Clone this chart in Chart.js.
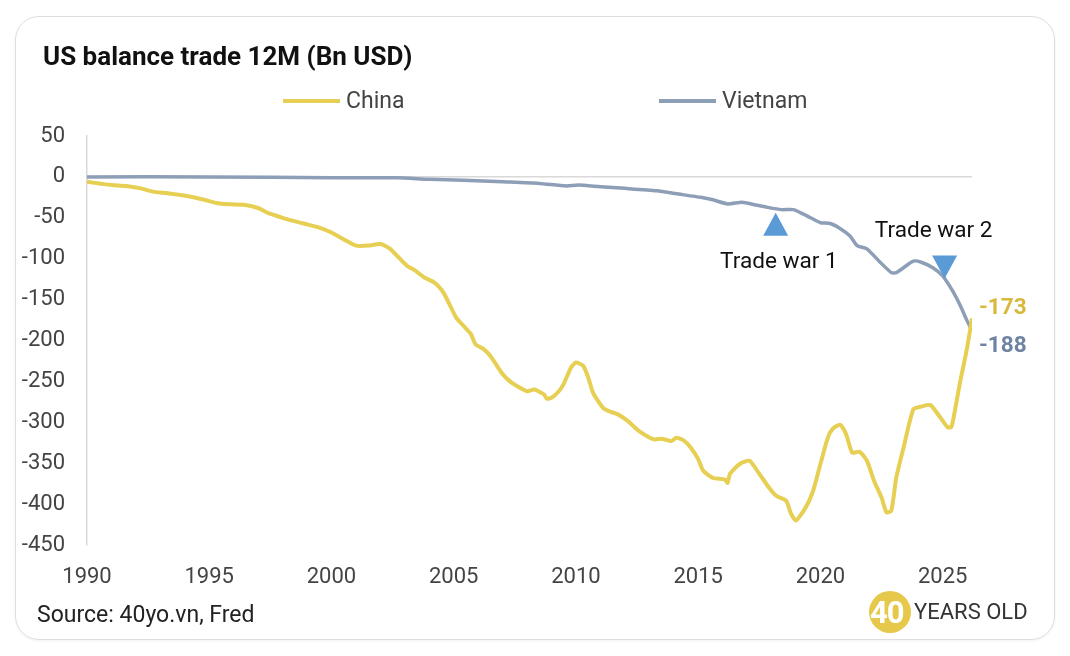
<!DOCTYPE html>
<html lang="en">
<head>
<meta charset="UTF-8">
<title>US balance trade 12M (Bn USD)</title>
<script src="https://cdn.jsdelivr.net/npm/chart.js"></script>
<style>
body{margin:0;background:#fff;font-family:Roboto,Arial,sans-serif;}
.stage{position:relative;width:1070px;height:656px;overflow:hidden;}
.card{position:absolute;left:15px;top:16px;width:1038px;height:622px;
      border:1.5px solid #dedede;border-radius:24px;box-shadow:0 1px 3px rgba(0,0,0,.06);}
canvas{position:absolute;left:0;top:0;}
.title{position:absolute;left:43px;top:41px;font-weight:700;font-size:26px;color:#111;}
.legend{position:absolute;top:87px;font-size:23px;color:#444;display:flex;align-items:center;}
.legend i{display:inline-block;width:57px;height:4px;margin-right:6px;}
.source{position:absolute;left:37px;top:601px;font-size:23px;color:#222;}
.logo{position:absolute;left:869px;top:591px;width:42px;height:42px;border-radius:50%;
      background:#e6c84a;overflow:hidden;}
.logo span{position:absolute;left:1px;top:3px;font-weight:700;font-size:31px;color:#fff;letter-spacing:-1px;}
.logotext{position:absolute;left:914px;top:599px;font-size:22px;color:#333;}
</style>
</head>
<body>
<div class="stage">
  <div class="card"></div>
  <canvas id="tradeChart" width="1070" height="656"></canvas>
  <div class="title">US balance trade 12M (Bn USD)</div>
  <div class="legend" style="left:283px"><i style="background:#e6cf52"></i>China</div>
  <div class="legend" style="left:659px"><i style="background:#8d9eb7"></i>Vietnam</div>
  <div class="source">Source: 40yo.vn, Fred</div>
  <div class="logo"><span>40</span></div>
  <div class="logotext">YEARS OLD</div>
</div>

<script>
/* ---- data (year, Bn USD) ---- */
const chinaYears=[1990.0,1990.5,1991.0,1991.6,1992.2,1992.7,1993.3,1994.2,1994.8,1995.3,1995.6,1996.4,1997.0,1997.4,1998.0,1998.6,1999.0,1999.5,2000.0,2000.6,
  2001.0,2001.5,2002.0,2002.4,2002.7,2003.1,2003.4,2003.8,2004.2,2004.5,2004.7,2005.1,2005.4,2005.7,2005.9,2006.2,2006.5,2007.0,2007.3,2007.6,
  2008.0,2008.3,2008.7,2008.8,2009.0,2009.3,2009.5,2009.8,2010.0,2010.3,2010.5,2010.7,2011.1,2011.4,2011.7,2012.1,2012.6,2013.2,2013.5,2013.9,
  2014.1,2014.4,2014.7,2015.0,2015.2,2015.6,2016.1,2016.2,2016.3,2016.7,2017.1,2017.5,2017.9,2018.2,2018.6,2018.8,2019.0,2019.4,2019.7,2020.0,
  2020.3,2020.5,2020.8,2021.0,2021.1,2021.3,2021.6,2021.9,2022.2,2022.5,2022.7,2022.9,2023.1,2023.4,2023.8,2024.1,2024.5,2024.9,2025.2,2025.35,
  2025.45,2025.7,2026.0,2026.2];
const chinaValues=[-6,-8,-10,-11,-14,-18,-20,-24,-28,-32,-33,-34,-38,-44,-50,-55,-58,-62,-68,-78,
  -84,-84,-82,-88,-97,-109,-114,-123,-129,-138,-148,-172,-182,-192,-205,-210,-219,-241,-250,-256,
  -262,-260,-266,-271,-270,-262,-253,-233,-227,-231,-245,-264,-282,-287,-290,-298,-311,-321,-320,-323,
  -319,-322,-331,-345,-359,-368,-370,-374,-363,-351,-347,-363,-380,-390,-396,-412,-420,-404,-384,-351,
  -319,-308,-303,-311,-319,-337,-336,-347,-372,-392,-410,-408,-368,-331,-284,-281,-279,-294,-306,-306,
  -294,-253,-209,-173];

const vietnamYears=[1990.0,1995.0,2000.0,2002.7,2004.0,2005.4,2007.0,2008.5,2009.6,2010.1,2011.0,2012.0,2013.3,2014.2,2015.1,2015.6,2016.2,2016.8,2017.3,2017.8,
  2018.4,2018.9,2019.2,2019.6,2020.0,2020.4,2020.8,2021.2,2021.5,2021.9,2022.4,2022.9,2023.1,2023.4,2023.8,2024.1,2024.6,2025.0,2025.4,2025.7,
  2026.0,2026.2];
const vietnamValues=[0,0,-1,-1,-3,-4,-6,-8,-11,-10,-12,-14,-17,-21,-25,-28,-33,-31,-34,-37,
  -40,-40,-44,-50,-56,-57,-63,-72,-84,-88,-103,-117,-117,-111,-103,-104,-111,-121,-139,-156,
  -176,-188];

/* annotations: triangle markers and their captions */
const warLabels=["Trade war 1","Trade war 2"];
const warYears=[2018.17,2025.08];
const warMarkerValues=[-58,-110];
const warMarkerUp=[true,false];
const warTextYears=[2018.3,2024.63];
const warTextValues=[-105,-66];

const COLORS={china:"#e6cf52",vietnam:"#8d9eb7",chinaLabel:"#d8b93c",vietnamLabel:"#6f84a3",marker:"#5b9bd5"};
const FONT="Roboto, Arial, sans-serif";

const toPoints=(xs,ys)=>xs.map((x,i)=>({x:x,y:ys[i]}));

/* draws the trade-war markers and the end-of-line values */
const notesPlugin={
  id:"notes",
  afterDatasetsDraw(chart){
    const {ctx,scales:{x,y}}=chart;
    ctx.save();
    warYears.forEach((yr,i)=>{
      const cx=x.getPixelForValue(yr), cy=y.getPixelForValue(warMarkerValues[i]);
      const h=23, w=25, dir=warMarkerUp[i]?1:-1;
      ctx.fillStyle=COLORS.marker;
      ctx.beginPath();
      ctx.moveTo(cx,cy-dir*h/2);
      ctx.lineTo(cx+w/2,cy+dir*h/2);
      ctx.lineTo(cx-w/2,cy+dir*h/2);
      ctx.closePath();ctx.fill();
      ctx.fillStyle="#111";
      ctx.font="22.6px "+FONT;
      ctx.textAlign="center";ctx.textBaseline="middle";
      ctx.fillText(warLabels[i],x.getPixelForValue(warTextYears[i]),y.getPixelForValue(warTextValues[i]));
    });
    const right=chart.chartArea.right;
    ctx.font="bold 22.5px "+FONT;
    ctx.textAlign="left";ctx.textBaseline="middle";
    const cLast=chinaValues[chinaValues.length-1], vLast=vietnamValues[vietnamValues.length-1];
    ctx.fillStyle=COLORS.chinaLabel;
    ctx.fillText(String(cLast),right+7,y.getPixelForValue(cLast)-10);
    ctx.fillStyle=COLORS.vietnamLabel;
    ctx.fillText(String(vLast),right+7,y.getPixelForValue(vLast)+16);
    ctx.restore();
  }
};

new Chart(document.getElementById("tradeChart"),{
  type:"line",
  data:{datasets:[
    {label:"China",data:toPoints(chinaYears,chinaValues),borderColor:COLORS.china,borderWidth:4,pointRadius:0,tension:0.2},
    {label:"Vietnam",data:toPoints(vietnamYears,vietnamValues),borderColor:COLORS.vietnam,borderWidth:3.5,pointRadius:0,tension:0.2}
  ]},
  options:{
    responsive:false,animation:false,devicePixelRatio:1,
    layout:{padding:{left:0,top:136,right:98,bottom:61}},
    plugins:{legend:{display:false},tooltip:{enabled:false}},
    scales:{
      x:{type:"linear",min:1990,max:2026.2,
         ticks:{stepSize:5,includeBounds:false,padding:11,color:"#444",font:{family:FONT,size:22},callback:v=>String(v)},
         grid:{display:false},border:{display:false},
         afterFit:s=>{s.height=50;}},
      y:{min:-450,max:50,
         ticks:{stepSize:50,padding:22,color:"#444",font:{family:FONT,size:22}},
         grid:{drawTicks:false,color:c=>c.tick.value===0?"#d9d9d9":"rgba(0,0,0,0)",lineWidth:1.5},
         border:{display:true,color:"#d9d9d9",width:1.5},
         afterFit:s=>{s.width=87;}}
    }
  },
  plugins:[notesPlugin]
});
</script>
</body>
</html>
